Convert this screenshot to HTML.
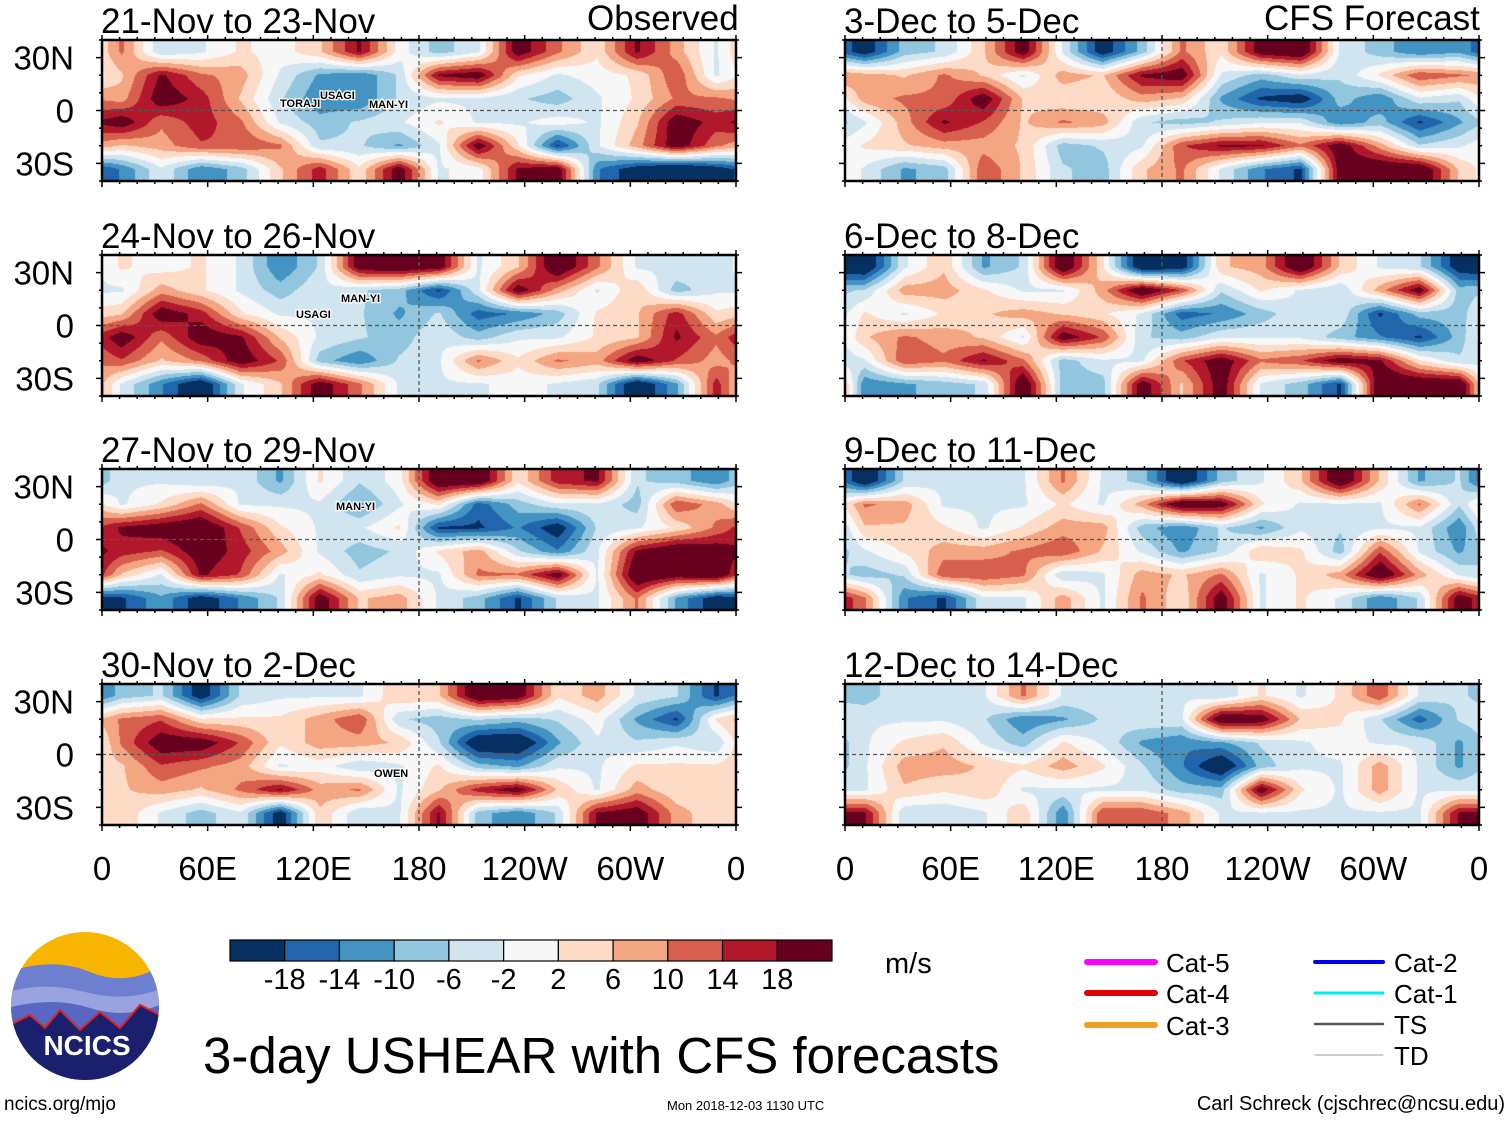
<!DOCTYPE html>
<html><head><meta charset="utf-8">
<style>
body{margin:0;background:#fff;width:1510px;height:1121px;overflow:hidden;position:relative;font-family:"Liberation Sans",sans-serif}
.t{position:absolute;white-space:nowrap;color:#000}
canvas{position:absolute}
</style></head>
<body>
<svg id="frame" width="1510" height="1121" style="position:absolute;left:0;top:0"></svg>
<script>
// --- data: 6 latitude bands (40N..40S) x 16 longitude bins (0..360, 22.5 deg) in m/s ---
const p1=[[8,-4,-2,2,0,4,14,0,-6,-2,16,8,2,14,6,-2],[4,14,8,6,-2,-8,-10,-4,14,16,2,-2,0,2,10,-2],[6,16,12,4,-4,-10,-10,-4,-2,-2,-4,-6,-2,2,8,8],[16,8,12,8,-2,-6,-4,-2,2,-2,-2,0,-2,4,16,12],[4,6,10,10,8,-4,-4,-8,-2,16,2,-14,-2,6,16,8],[-10,-2,-10,-6,4,12,2,16,-2,0,14,16,-10,-16,-20,-16]];
const p2=[[2,0,2,-2,-10,-4,16,18,16,-2,4,18,8,-2,-2,-4],[-2,6,2,-2,-6,-2,-4,-6,-14,-2,16,6,-2,4,-6,-2],[4,16,12,2,-2,-2,-4,-8,-4,-12,-10,-6,2,4,12,2],[16,8,16,14,4,-2,-4,-6,-2,-6,-2,-2,2,4,14,8],[10,4,8,16,10,-6,-10,-4,-2,8,2,8,6,16,10,6],[-2,-10,-18,-2,4,16,8,-2,-2,-2,0,-2,-4,-18,-8,12]];
const p3=[[-2,-2,-4,-2,-8,2,-4,0,18,18,2,12,14,-4,-6,-10],[-2,2,8,-2,-2,-2,-8,-2,2,-12,-6,-2,-2,-6,10,6],[14,16,18,10,2,-2,-2,2,-14,-14,-10,-16,-4,-2,2,8],[12,10,16,12,6,-2,-6,-4,2,6,-4,-10,-2,14,18,16],[4,-2,14,10,-2,2,-4,-2,-2,8,8,16,-2,18,16,18],[-14,-8,-16,-10,-4,16,4,6,-2,-6,-14,-4,-2,8,-8,-16]];
const p4=[[-6,-4,-16,-4,-2,-2,-2,4,4,18,16,2,6,-2,-4,-14],[8,10,2,2,2,6,10,-4,-6,-4,-6,-4,0,-8,-14,2],[8,16,16,10,2,6,6,4,-4,-18,-18,-8,-2,-4,-2,-4],[4,10,8,6,-2,0,-4,-2,2,-6,-8,-2,-2,2,2,2],[4,6,4,8,14,6,8,-2,4,12,16,4,-2,6,2,2],[4,-2,-6,-2,-16,4,-4,-2,14,-6,-10,-4,14,16,6,2]];
const p5=[[-16,-6,-4,4,16,-2,-16,-6,8,2,16,18,-2,-6,-10,-8],[6,4,8,4,-2,6,4,14,16,-2,-6,-2,-4,2,10,8],[6,8,8,16,4,2,2,6,4,-8,-14,-16,-6,-10,-2,-4],[-2,6,14,10,4,8,6,-4,-6,-4,-2,-2,-10,-6,-14,-8],[2,4,6,6,4,-6,-4,-2,10,14,14,8,16,6,-4,-2],[-2,-8,-6,10,4,-4,-6,4,8,-2,-10,-14,16,18,18,4]];
const p6=[[-18,-2,4,-8,-4,18,2,-18,-16,4,6,18,4,-2,-4,-16],[-4,6,6,2,-2,-2,6,18,10,-4,2,-2,-4,6,16,-6],[2,-2,2,4,6,4,2,-2,-12,-10,-6,-2,-2,-14,-6,-6],[4,8,6,4,-2,16,10,-4,-6,-2,-2,-2,-6,-10,-14,-6],[-2,10,8,14,8,-6,-2,-2,10,16,8,10,16,14,2,-4],[-10,-8,-6,-4,18,-6,-6,16,4,16,-2,-6,-14,18,18,18]];
const p7=[[-18,-4,-2,-2,-2,8,-2,-6,-18,-6,-2,4,18,4,-8,-4],[8,6,-2,-2,-2,2,-2,6,18,16,2,-2,-2,-2,8,-4],[4,4,2,-2,2,6,6,-6,-10,-4,-8,-2,-4,-2,-2,-10],[-2,2,6,6,8,10,4,-2,-8,-4,4,2,-6,10,-2,-8],[-6,-4,10,10,8,-4,-2,6,4,8,-2,2,6,18,6,-2],[8,-10,-14,-2,-2,6,-2,8,2,16,-2,2,-2,-10,-4,16]];
const p8=[[-6,-2,-2,-2,8,-2,-2,-4,-2,-4,2,-2,2,10,-2,-4],[-2,-2,-2,-4,-10,-8,-4,-2,-2,18,16,4,2,-4,-12,-4],[-2,2,4,-2,-6,2,-2,-8,-10,-8,-4,-2,0,-2,-2,-8],[-2,6,6,4,2,6,2,-4,-10,-18,-6,-2,-2,6,-2,-8],[-2,4,2,4,-2,-2,-2,-2,-6,-6,16,2,-2,6,-2,-2],[14,-4,-4,-2,4,-10,10,10,6,-2,-2,-2,-2,-2,-2,14]];
const titles=["21-Nov to 23-Nov","24-Nov to 26-Nov","27-Nov to 29-Nov","30-Nov to 2-Dec","3-Dec to 5-Dec","6-Dec to 8-Dec","9-Dec to 11-Dec","12-Dec to 14-Dec"];
const latLabels=["30N","0","30S"];
const lonLabels=["0","60E","120E","180","120W","60W","0"];
const cbLabels=["-18","-14","-10","-6","-2","2","6","10","14","18"];
const levels=[-18,-14,-10,-6,-2,2,6,10,14,18];
const colors=["#053061","#2166ac","#4393c3","#92c5de","#d1e5f0","#f7f7f7","#fddbc7","#f4a582","#d6604d","#b2182b","#67001f"];
</script>

<div class="t" style="left:587px;top:-1px;font-size:35px">Observed</div>
<div class="t" style="left:1264px;top:-1px;font-size:35px">CFS Forecast</div>

<div class="t" style="left:885px;top:948px;font-size:29px">m/s</div>
<div class="t" style="left:203px;top:1026px;font-size:51px">3-day USHEAR with CFS forecasts</div>
<div class="t" style="left:4px;top:1094px;font-size:19px">ncics.org/mjo</div>
<div class="t" style="left:667px;top:1098px;font-size:13px">Mon 2018-12-03 1130 UTC</div>
<div class="t" style="right:5px;top:1093px;font-size:20px">Carl Schreck (cjschrec@ncsu.edu)</div>

<script>
const NS="http://www.w3.org/2000/svg";
const svg=document.getElementById('frame');
function mk(tag,attrs,parent){const e=document.createElementNS(NS,tag);for(const k in attrs)e.setAttribute(k,attrs[k]);(parent||svg).appendChild(e);return e;}
function hexRgb(h){return [parseInt(h.substr(1,2),16),parseInt(h.substr(3,2),16),parseInt(h.substr(5,2),16)];}
const colRgb=colors.map(hexRgb);
function idxFor(v){let i=0;while(i<levels.length&&v>=levels[i])i++;return i;}
const GAIN=1.35; // compensates smoothing loss of interpolation

const panels=[p1,p2,p3,p4,p5,p6,p7,p8];
const lefts=[102,845];
const tops=[40,255,469,684];
const PW=634, PH=141;
function xLon(x0,lon){return x0+lon/360*PW;}
function yLat(y0,lat){return y0+(40-lat)/80*PH;}

panels.forEach((grid,pi)=>{
  const col=Math.floor(pi/4);
  const x0=lefts[col], y0=tops[pi%4];
  const cv=document.createElement('canvas');
  cv.width=PW;cv.height=PH;cv.style.left=x0+'px';cv.style.top=y0+'px';
  
  
  document.body.insertBefore(cv,svg);
  const ctx=cv.getContext('2d');const img=ctx.createImageData(PW,PH);
  const nr=grid.length,nc=grid[0].length;
  for(let py=0;py<PH;py++){
    const lat=40-(py+0.5)/PH*80;
    let gy=(40-lat)/80*nr-0.5;gy=Math.max(0,Math.min(nr-1,gy));
    const r0=Math.floor(gy),r1=Math.min(nr-1,r0+1),sy=gy-r0;
    for(let px=0;px<PW;px++){
      const lon=(px+0.5)/PW*360;
      let gx=lon/360*nc-0.5;
      let c0=Math.floor(gx),sx=gx-c0;
      const ca=(c0+nc)%nc,cb=(c0+1)%nc;
      const a=grid[r0][ca]*(1-sx)+grid[r0][cb]*sx;
      const b=grid[r1][ca]*(1-sx)+grid[r1][cb]*sx;
      const v=(a*(1-sy)+b*sy)*GAIN;
      const c=colRgb[idxFor(v)];
      const k=(py*PW+px)*4;img.data[k]=c[0];img.data[k+1]=c[1];img.data[k+2]=c[2];img.data[k+3]=255;
    }
  }
  ctx.putImageData(img,0,0);
  const g=mk('g',{});
  
  
  const eq=mk('line',{x1:x0,x2:x0+PW,y1:yLat(y0,0),y2:yLat(y0,0),stroke:'#555','stroke-width':1.3,'stroke-dasharray':'4,3'},g);
  
  const dl=mk('line',{x1:xLon(x0,180),x2:xLon(x0,180),y1:y0,y2:y0+PH,stroke:'#555','stroke-width':1.3,'stroke-dasharray':'4,3'},g);
  
  for(let lon=0;lon<=360;lon+=10){
    const major=lon%60===0;const x=xLon(x0,lon);
    mk('line',{x1:x,x2:x,y1:y0+PH,y2:y0+PH+(major?6:3),stroke:'#000','stroke-width':1.5},g);
    mk('line',{x1:x,x2:x,y1:y0,y2:y0-(major?5:3),stroke:'#000','stroke-width':1.5},g);
  }
  for(let lat=-40;lat<=40;lat+=10){
    const y=yLat(y0,lat);const major=lat%30===0;
    mk('line',{x1:x0,x2:x0-(major?6:3),y1:y,y2:y,stroke:'#000','stroke-width':1.5},g);
    mk('line',{x1:x0+PW,x2:x0+PW+(major?6:3),y1:y,y2:y,stroke:'#000','stroke-width':1.5},g);
  }
  const fr=mk('rect',{x:x0,y:y0,width:PW,height:PH,fill:'none',stroke:'#000','stroke-width':2.5},g);
  
  const tt=mk('text',{x:x0-1,y:y0-7,'font-size':35,'font-family':'Liberation Sans, sans-serif'},g);
  tt.textContent=titles[pi];
  
  if(col===0){
    [30,0,-30].forEach((lat,i)=>{
      const t=mk('text',{x:x0-28,y:yLat(y0,lat)+12,'font-size':33,'text-anchor':'end','font-family':'Liberation Sans, sans-serif'},g);
      t.textContent=latLabels[i];
      
    });
  }
});
lefts.forEach(x0=>{
  lonLabels.forEach((s,i)=>{
    const t=mk('text',{x:xLon(x0,i*60),y:880,'font-size':33,'text-anchor':'middle','font-family':'Liberation Sans, sans-serif'});
    t.textContent=s;
    
  });
});
[["TORAJI",280,107],["USAGI",320,99],["MAN-YI",369,108],["MAN-YI",341,302],["USAGI",296,318],["MAN-YI",336,510],["OWEN",374,777]].forEach(s=>{
  const t=mk('text',{x:s[1],y:s[2],'font-size':11,'font-weight':'bold',stroke:'#fff','stroke-width':2.5,'paint-order':'stroke','font-family':'Liberation Sans, sans-serif'});
  t.textContent=s[0];
  
});
const cb=mk('g',{});

const cbX=230,cbW=602,cbY=940,cbH=21,bw=cbW/colors.length;
colors.forEach((c,i)=>{
  const r=mk('rect',{x:cbX+i*bw,y:cbY,width:bw,height:cbH,fill:c,stroke:'#000','stroke-width':1.2},cb);
  
});
cbLabels.forEach((s,i)=>{
  const t=mk('text',{x:cbX+(i+1)*bw,y:989,'font-size':29,'text-anchor':'middle','font-family':'Liberation Sans, sans-serif'},cb);
  t.textContent=s;
  
});
const legItems=[["Cat-5","#ff00ff",1087,962,6],["Cat-4","#e00000",1087,993,6],["Cat-3","#f0a020",1087,1025,6],["Cat-2","#0000ee",1315,962,4],["Cat-1","#00eeee",1315,993,3],["TS","#555555",1315,1024,2.5],["TD","#999999",1315,1055,1]];
legItems.forEach(it=>{
  const g=mk('g',{});
  
  mk('line',{x1:it[2],x2:it[2]+68,y1:it[3],y2:it[3],stroke:it[1],'stroke-width':it[4],'stroke-linecap':'round'},g);
  const t=mk('text',{x:it[2]+79,y:it[3]+10,'font-size':26,'font-family':'Liberation Sans, sans-serif'},g);
  t.textContent=it[0];
});
const lg=mk('g',{});

const clip=mk('clipPath',{id:'lc'},lg);
mk('circle',{cx:85,cy:1006,r:74},clip);
const inner=mk('g',{'clip-path':'url(#lc)'},lg);
mk('rect',{x:0,y:930,width:170,height:160,fill:'#f7b500'},inner);
mk('path',{d:'M0 975 Q50 955 90 972 T170 960 V1100 H0Z',fill:'#6f7fd0'},inner);
mk('path',{d:'M0 995 Q40 980 85 992 T170 985 V1100 H0Z',fill:'#9aa3e0'},inner);
mk('path',{d:'M0 1010 Q50 995 90 1008 T170 1000 V1100 H0Z',fill:'#5867c4'},inner);
mk('path',{d:'M0 1030 L30 1015 L45 1028 L60 1010 L80 1030 L100 1012 L120 1028 L140 1005 L170 1020 V1100 H0Z',fill:'#1a1f6e',stroke:'#e02020','stroke-width':2},inner);
const lt=mk('text',{x:87,y:1055,'font-size':28,'font-weight':'bold',fill:'#fff','text-anchor':'middle','font-family':'Liberation Sans, sans-serif'},lg);
lt.textContent='NCICS';
</script>
</body></html>
